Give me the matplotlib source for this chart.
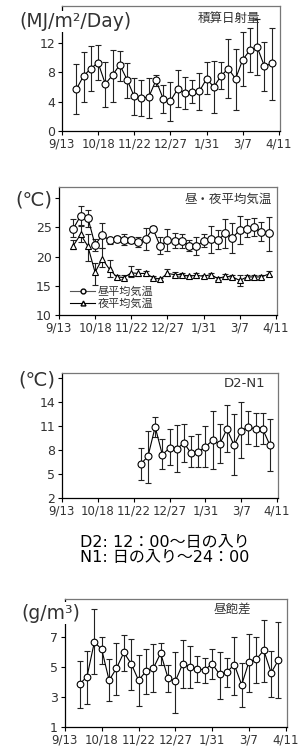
import matplotlib.pyplot as plt
from matplotlib.lines import Line2D

plt.rcParams['font.family'] = ['DejaVu Sans', 'Noto Sans CJK JP']

# x axis: days after 9/13
tick_pos = [0, 35, 70, 105, 140, 175, 210]
tick_labels = ['9/13', '10/18', '11/22', '12/27', '1/31', '3/7', '4/11']
week_days = [14, 21, 28, 35, 42, 49, 56, 63, 70, 77, 84, 91, 98, 105,
             112, 119, 126, 133, 140, 147, 154, 161, 168, 175, 182, 189, 196, 203]

# 積算日射量 (MJ/m2/Day)
rad_mean = [5.7, 7.5, 8.5, 9.3, 6.4, 7.6, 9.0, 7.0, 4.7, 4.5, 4.6, 6.9, 4.4, 4.1,
            5.7, 5.2, 5.3, 5.4, 7.1, 6.0, 7.5, 8.5, 7.1, 9.7, 11.0, 11.4, 8.8, 9.2]
rad_lo = [2.3, 4.0, 5.5, 6.9, 3.2, 4.0, 6.8, 4.5, 2.2, 2.0, 1.8, 6.1, 2.4, 1.4,
          3.2, 3.0, 3.8, 2.8, 5.0, 2.5, 5.7, 4.5, 2.8, 6.1, 8.0, 7.6, 5.4, 4.2]
rad_hi = [9.1, 10.8, 11.5, 11.7, 9.4, 11.0, 10.9, 9.3, 7.2, 6.9, 7.2, 7.6, 6.2, 6.6,
          8.3, 7.3, 6.9, 7.9, 9.4, 9.5, 9.4, 12.5, 11.2, 13.4, 14.0, 15.3, 12.1, 14.0]

# 昼・夜平均気温 (℃)
day_mean = [24.8, 27.0, 26.7, 22.0, 23.7, 22.8, 23.1, 22.9, 22.8, 22.5, 23.1, 24.8, 21.8, 22.8,
            22.6, 22.7, 21.9, 21.8, 22.7, 23.1, 22.8, 24.0, 23.2, 24.6, 24.8, 25.0, 24.2, 24.0]
day_lo = [23.4, 25.3, 25.0, 21.0, 21.5, 22.2, 22.6, 22.0, 22.3, 21.7, 21.2, 24.4, 20.5, 20.9,
          21.4, 21.5, 20.9, 20.3, 21.6, 20.6, 21.3, 21.5, 20.6, 22.1, 23.3, 23.5, 22.6, 21.0]
day_hi = [26.4, 28.7, 28.0, 23.0, 25.7, 23.2, 23.6, 23.8, 23.3, 23.3, 24.9, 25.2, 23.3, 24.7,
          24.0, 23.9, 22.9, 23.4, 23.9, 25.3, 24.5, 26.4, 25.7, 26.9, 26.4, 26.6, 25.9, 26.8]
night_mean = [21.9, 23.8, 21.8, 17.3, 19.6, 17.8, 16.5, 16.4, 17.2, 17.1, 17.1, 16.4, 16.1, 17.1,
              16.9, 16.9, 16.6, 16.8, 16.6, 16.9, 16.2, 16.6, 16.5, 15.9, 16.5, 16.5, 16.5, 17.0]
night_lo = [21.3, 22.5, 19.2, 15.1, 18.2, 16.5, 16.2, 16.1, 16.5, 16.6, 16.6, 16.1, 15.8, 16.6,
            16.6, 16.6, 16.3, 16.4, 16.3, 16.6, 15.9, 16.2, 16.2, 15.0, 16.2, 16.2, 16.2, 16.6]
night_hi = [22.9, 25.4, 23.8, 18.9, 21.5, 19.4, 16.9, 16.8, 18.4, 17.8, 17.6, 16.7, 16.4, 17.8,
            17.3, 17.2, 16.9, 17.2, 16.9, 17.2, 16.5, 17.0, 16.8, 16.8, 16.8, 16.8, 16.8, 17.6]

# D2-N1 (℃), from 11/29
diff_days = week_days[9:]
diff_mean = [6.25, 7.2, 10.9, 7.4, 8.25, 8.1, 8.9, 7.6, 7.75, 8.4,
             9.2, 8.75, 10.6, 8.6, 10.4, 10.9, 10.6, 10.6, 8.6]
diff_lo = [4.2, 3.8, 9.6, 5.6, 6.1, 5.2, 6.5, 5.8, 5.8, 5.9,
           5.6, 6.3, 7.8, 4.9, 7.0, 8.8, 8.5, 8.7, 5.3]
diff_hi = [8.3, 10.4, 12.2, 9.4, 10.6, 11.1, 11.2, 9.7, 10.0, 11.0,
           12.9, 11.2, 13.6, 12.5, 14.0, 12.9, 12.7, 12.7, 11.9]

# 昼飽差 (g/m3)
vpd_mean = [3.85, 4.35, 6.65, 6.15, 4.1, 4.9, 5.95, 5.2, 4.1, 4.7, 4.9, 5.9, 4.25, 4.05,
            5.2, 5.0, 4.85, 4.8, 5.2, 4.5, 4.65, 5.15, 3.8, 5.35, 5.5, 6.1, 4.6, 5.45]
vpd_lo = [2.25, 2.55, 4.55, 5.2, 2.7, 3.1, 4.7, 3.45, 2.4, 3.2, 3.3, 5.1, 3.35, 1.95,
          3.6, 3.6, 4.0, 3.9, 4.2, 2.85, 3.65, 3.1, 2.3, 3.35, 3.95, 4.0, 3.0, 2.9]
vpd_hi = [5.4, 6.05, 8.85, 7.0, 5.5, 6.6, 7.1, 6.85, 5.75, 6.15, 6.5, 6.6, 5.1, 6.0,
          6.75, 6.4, 5.7, 5.6, 6.2, 6.0, 5.55, 7.0, 5.25, 7.15, 7.0, 8.1, 6.05, 8.0]

TXT = '#333333'


def setup_axes(rect, ylim, yticks, ylabels):
    ax = fig.add_axes(rect)
    ax.set_xlim(0, 211)
    ax.set_ylim(*ylim)
    ax.set_xticks(tick_pos)
    ax.set_xticklabels(tick_labels, fontsize=8.5, color=TXT)
    ax.set_yticks(yticks)
    ax.set_yticklabels(ylabels, fontsize=9, color=TXT)
    ax.tick_params(direction='out', length=3, width=0.8, pad=2)
    for s in ['left', 'bottom']:
        ax.spines[s].set_color('black')
        ax.spines[s].set_linewidth(0.9)
    for s in ['top', 'right']:
        ax.spines[s].set_color('#777777')
        ax.spines[s].set_linewidth(0.9)
    return ax


def err_plot(ax, x, m, lo, hi, marker='o', ms=5):
    yerr = [[a - b for a, b in zip(m, lo)], [b - a for a, b in zip(m, hi)]]
    ax.errorbar(x, m, yerr=yerr, fmt='-' + marker, color='black', ecolor='#222222',
                mfc='white', mec='black', ms=ms, mew=0.8, lw=0.8,
                elinewidth=0.8, capsize=2, capthick=0.8, zorder=3)


fig = plt.figure(figsize=(3.02, 7.53), dpi=100)

# panel 1
ax1 = setup_axes([0.205, 0.826, 0.722, 0.166], (0, 17), [0, 4, 8, 12, 16],
                 ['0', '4', '8', '12', ''])
err_plot(ax1, week_days, rad_mean, rad_lo, rad_hi, ms=5)
ax1.text(0.32, 0.875, '(MJ/m²/Day)', transform=ax1.transAxes, ha='right', va='center',
         fontsize=13.5, color=TXT, zorder=10, clip_on=False,
         bbox=dict(facecolor='white', edgecolor='none', pad=1))
ax1.text(0.91, 0.90, '積算日射量', transform=ax1.transAxes, ha='right', va='center',
         fontsize=9, color=TXT, family='Noto Sans CJK JP')

# panel 2
ax2 = setup_axes([0.195, 0.582, 0.722, 0.170], (10, 32), [10, 15, 20, 25, 30],
                 ['10', '15', '20', '25', '(℃)'])
ax2.get_yticklabels()[-1].set_fontsize(14)
err_plot(ax2, week_days, day_mean, day_lo, day_hi, marker='o', ms=5.5)
err_plot(ax2, week_days, night_mean, night_lo, night_hi, marker='^', ms=4.5)
ax2.text(0.977, 0.90, '昼・夜平均気温', transform=ax2.transAxes, ha='right', va='center',
         fontsize=9, color=TXT, family='Noto Sans CJK JP')
handles = [Line2D([], [], color='#555555', lw=0.8, marker='o', ms=3.5, mfc='white', mec='black'),
           Line2D([], [], color='black', lw=0.8, marker='^', ms=3.5, mfc='white', mec='black')]
ax2.legend(handles, ['昼平均気温', '夜平均気温'], loc='lower left',
           bbox_to_anchor=(0.03, 0.01), frameon=False, handlelength=2.3,
           handletextpad=0.2, labelspacing=0.15, borderaxespad=0,
           prop={'family': 'Noto Sans CJK JP', 'size': 8}, labelcolor=TXT)

# panel 3
ax3 = setup_axes([0.205, 0.339, 0.716, 0.166], (2, 17.7), [2, 5, 8, 11, 14, 17],
                 ['2', '5', '8', '11', '14', '(℃)'])
ax3.get_yticklabels()[-1].set_fontsize(14)
err_plot(ax3, diff_days, diff_mean, diff_lo, diff_hi, ms=5)
ax3.text(0.94, 0.91, 'D2-N1', transform=ax3.transAxes, ha='right', va='center',
         fontsize=9.5, color=TXT)

fig.text(0.546, 0.2695, 'D2: 12：00～日の入り\nN1: 日の入り～24：00', ha='center', va='center',
         ma='left', fontsize=11.5, linespacing=1.0, color='black')

# panel 4
ax4 = setup_axes([0.215, 0.0345, 0.735, 0.170], (1, 9.5), [1, 3, 5, 7, 9],
                 ['1', '3', '5', '7', ''])
err_plot(ax4, week_days, vpd_mean, vpd_lo, vpd_hi, ms=4.8)
ax4.text(0.068, 0.89, '(g/m³)', transform=ax4.transAxes, ha='right', va='center',
         fontsize=13.5, color=TXT, zorder=10, clip_on=False,
         bbox=dict(facecolor='white', edgecolor='none', pad=1))
ax4.text(0.84, 0.92, '昼飽差', transform=ax4.transAxes, ha='right', va='center',
         fontsize=9, color=TXT, family='Noto Sans CJK JP')

fig.savefig('out.png', dpi=100)
